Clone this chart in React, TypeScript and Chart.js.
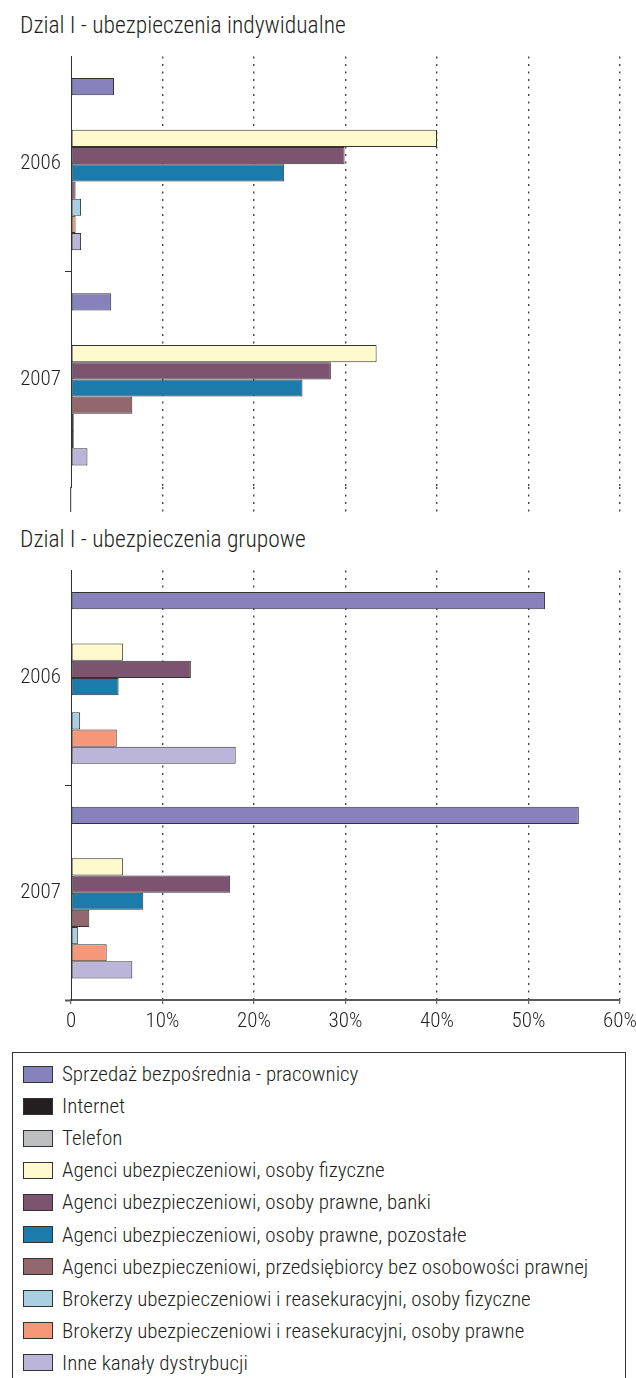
import React, { useEffect, useRef } from 'react';
import { Chart, registerables } from 'chart.js';

Chart.register(...registerables);

// ---------- data ----------
const years = ['2006', '2007'];

const seriesNames = [
  'Sprzedaż bezpośrednia - pracownicy',
  'Internet',
  'Telefon',
  'Agenci ubezpieczeniowi, osoby fizyczne',
  'Agenci ubezpieczeniowi, osoby prawne, banki',
  'Agenci ubezpieczeniowi, osoby prawne, pozostałe',
  'Agenci ubezpieczeniowi, przedsiębiorcy bez osobowości prawnej',
  'Brokerzy ubezpieczeniowi i reasekuracyjni, osoby fizyczne',
  'Brokerzy ubezpieczeniowi i reasekuracyjni, osoby prawne',
  'Inne kanały dystrybucji',
];

const seriesColors = [
  '#8882bc',
  '#231f20',
  '#bcbec0',
  '#fffacd',
  '#7d5470',
  '#1b7bab',
  '#92676f',
  '#a8d0e0',
  '#f5987a',
  '#bab5d9',
];

// Dział I - ubezpieczenia indywidualne (% share)
const indiv2006 = [4.7, 0, 0, 40.0, 29.9, 23.3, 0.5, 1.1, 0.5, 1.1];
const indiv2007 = [4.4, 0, 0, 33.4, 28.4, 25.3, 6.7, 0.3, 0.3, 1.8];

// Dział I - ubezpieczenia grupowe (% share)
const group2006 = [51.8, 0, 0, 5.7, 13.1, 5.2, 0, 1.0, 5.0, 18.0];
const group2007 = [55.5, 0, 0, 5.7, 17.4, 7.9, 2.0, 0.75, 3.9, 6.7];

const xTickValues = [0, 10, 20, 30, 40, 50, 60];
const xTickLabels = ['0', '10%', '20%', '30%', '40%', '50%', '60%'];

const titleIndiv = 'Dzial I - ubezpieczenia indywidualne';
const titleGroup = 'Dzial I - ubezpieczenia grupowe';

// ---------- styling ----------
const FONT = "'Roboto Condensed', 'DejaVu Sans Condensed', sans-serif";
const INK = '#231f20';
const CLEAR = 'rgba(0,0,0,0)';
const DOTS = [2, 5.5];
const GRID = '#444444';

function buildConfig(a: number[], b: number[], bottomAxis: boolean): any {
  const isTick = (c: any) => c && c.type === 'tick';
  return {
    type: 'bar',
    data: {
      labels: years,
      datasets: seriesNames.map((name, i) => ({
        label: name,
        data: [a[i], b[i]],
        backgroundColor: seriesColors[i],
        borderColor: '#333333',
        borderWidth: 1,
        borderSkipped: false,
        categoryPercentage: 0.8,
        barPercentage: 1.0,
      })),
    },
    options: {
      indexAxis: 'y',
      animation: false,
      responsive: false,
      maintainAspectRatio: false,
      layout: { padding: { top: 7, right: 16, bottom: 2, left: 0 } },
      plugins: {
        legend: { display: false },
        tooltip: { enabled: false },
        title: { display: false },
      },
      scales: {
        x: {
          type: 'linear',
          position: 'bottom',
          min: 0,
          max: 60,
          ticks: {
            display: bottomAxis,
            stepSize: 10,
            autoSkip: false,
            maxRotation: 0,
            padding: 5,
            color: INK,
            font: { family: FONT, size: 21, weight: 300 },
            callback: (v: number) => {
              const k = xTickValues.indexOf(v);
              return k >= 0 ? xTickLabels[k] : '';
            },
          },
          grid: {
            display: true,
            drawOnChartArea: true,
            drawTicks: true,
            tickLength: bottomAxis ? 4 : 25,
            lineWidth: 1.4,
            borderDash: DOTS,
            color: (c: any) => (isTick(c) && c.index === 0 ? CLEAR : GRID),
            tickColor: (c: any) =>
              bottomAxis ? '#444444' : isTick(c) && c.index === 0 ? '#333333' : GRID,
            tickWidth: (c: any) => (bottomAxis ? 1 : isTick(c) && c.index === 0 ? 1 : 1.4),
            tickBorderDash: (c: any) => (bottomAxis ? [] : isTick(c) && c.index === 0 ? [] : DOTS),
          },
          border: { display: bottomAxis, color: '#5a5a5a', width: 2, dash: DOTS },
          afterFit: (s: any) => {
            s.height = bottomAxis ? 36 : 25;
            s.paddingLeft = 0;
            s.paddingRight = 0;
          },
        },
        y: {
          type: 'category',
          offset: true,
          ticks: {
            padding: 4,
            color: INK,
            font: { family: FONT, size: 21, weight: 300 },
          },
          grid: {
            offset: true,
            drawOnChartArea: false,
            drawTicks: true,
            tickLength: 6,
            lineWidth: 1,
            color: (c: any) => {
              if (isTick(c)) return c.index === 1 ? '#333333' : CLEAR;
              return bottomAxis ? '#5a5a5a' : CLEAR;
            },
            tickColor: (c: any) => {
              if (isTick(c)) return c.index === 1 ? '#333333' : CLEAR;
              return bottomAxis ? '#5a5a5a' : CLEAR;
            },
            tickWidth: (c: any) => (isTick(c) ? 1 : 2),
          },
          border: { display: true, color: '#333333', width: 1 },
          afterFit: (s: any) => {
            s.width = 71;
          },
        },
      },
    },
  };
}

function BarPanel(props: { top: number; height: number; a: number[]; b: number[]; bottomAxis: boolean }) {
  const ref = useRef<HTMLCanvasElement | null>(null);
  useEffect(() => {
    if (!ref.current) return;
    const chart = new Chart(ref.current, buildConfig(props.a, props.b, props.bottomAxis));
    return () => chart.destroy();
  }, []);
  return (
    <canvas
      ref={ref}
      width={636}
      height={props.height}
      style={{ position: 'absolute', left: 0, top: props.top, display: 'block', width: 636, height: props.height }}
    />
  );
}

const titleStyle: React.CSSProperties = {
  position: 'absolute',
  left: 20,
  fontFamily: FONT,
  fontWeight: 300,
  fontSize: 23.5,
  lineHeight: '24px',
  color: INK,
  whiteSpace: 'nowrap',
};

export default function App() {
  return (
    <div
      style={{
        position: 'absolute',
        left: 0,
        top: 0,
        width: 636,
        height: 1378,
        overflow: 'hidden',
        background: '#ffffff',
      }}
    >
      <div style={{ ...titleStyle, top: 13 }}>{titleIndiv}</div>
      <BarPanel top={40} height={474} a={indiv2006} b={indiv2007} bottomAxis={false} />
      <div style={{ ...titleStyle, top: 527 }}>{titleGroup}</div>
      <BarPanel top={554} height={484} a={group2006} b={group2007} bottomAxis={true} />
      <div
        style={{
          position: 'absolute',
          left: 12,
          top: 1052,
          width: 614,
          height: 345,
          border: '1px solid #333333',
          boxSizing: 'border-box',
        }}
      >
        {seriesNames.map((name, i) => (
          <div
            key={name}
            style={{
              position: 'absolute',
              left: 10,
              top: 11 + i * 32.1,
              height: 20,
              display: 'flex',
              alignItems: 'center',
            }}
          >
            <span
              style={{
                display: 'inline-block',
                width: 30,
                height: 17,
                background: seriesColors[i],
                border: '1px solid #333333',
                boxSizing: 'border-box',
                flex: 'none',
              }}
            />
            <span
              style={{
                marginLeft: 9,
                fontFamily: FONT,
                fontWeight: 300,
                fontSize: 21,
                lineHeight: '20px',
                color: INK,
                whiteSpace: 'nowrap',
              }}
            >
              {name}
            </span>
          </div>
        ))}
      </div>
    </div>
  );
}
